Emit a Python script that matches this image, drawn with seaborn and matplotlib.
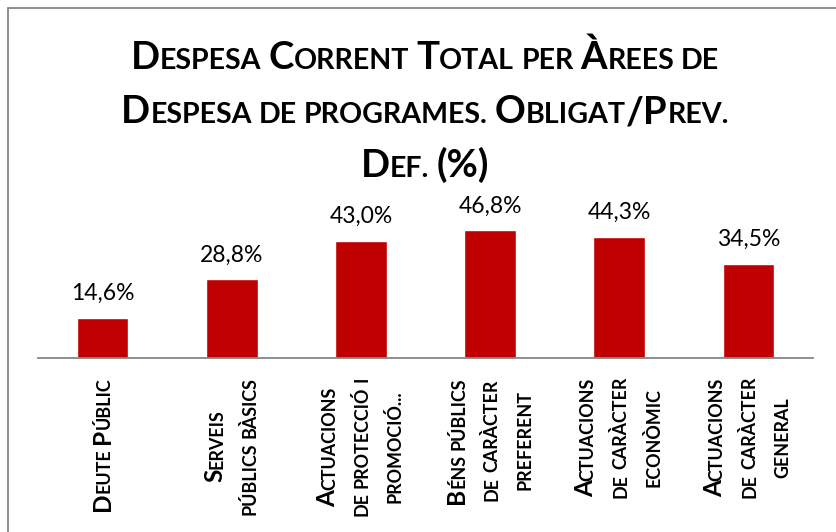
import matplotlib
matplotlib.use("Agg")
import matplotlib.pyplot as plt
import numpy as np
import pandas as pd
import seaborn as sns
from matplotlib.patches import Rectangle

# ---------------- data ----------------
categories = [
    "Deute Públic",
    "Serveis\npúblics bàsics",
    "Actuacions\nde protecció i\npromoció...",
    "Béns públics\nde caràcter\npreferent",
    "Actuacions\nde caràcter\neconòmic",
    "Actuacions\nde caràcter\ngeneral",
]
values = [14.6, 28.8, 43.0, 46.8, 44.3, 34.5]
value_labels = ["14,6%", "28,8%", "43,0%", "46,8%", "44,3%", "34,5%"]
title_lines = [
    "Despesa Corrent Total per Àrees de",
    "Despesa de programes. Obligat/Prev.",
    "Def. (%)",
]

# ---------------- style ----------------
sns.set_theme(style="white")
plt.rcParams["font.family"] = ["Lato", "DejaVu Sans"]

W, H = 836, 532
fig = plt.figure(figsize=(W / 100, H / 100), dpi=100)
fig.patch.set_facecolor("white")

# outer chart border (clipped by the image at right / bottom)
fig.patches.append(Rectangle((8 / W, -0.1), 1.2, 1.1 - 8 / H, transform=fig.transFigure,
                             fill=False, edgecolor="#868686", lw=1.3))

ax = fig.add_axes([38 / W, 1 - 357.5 / H, 775 / W, 163 / H])
df = pd.DataFrame({"cat": categories, "val": values})
sns.barplot(data=df, x="cat", y="val", color="#C00000", saturation=1, width=0.4, ax=ax)
ax.set_ylim(0, 60)
ax.set_xlim(-0.5, 5.5)
ax.set_yticks([])
ax.set_xticks(range(len(categories)))
ax.set_xticklabels([])
ax.tick_params(length=0)
ax.set_xlabel("")
ax.set_ylabel("")
ax.set_facecolor("none")
for s in ["top", "right", "left"]:
    ax.spines[s].set_visible(False)
ax.spines["bottom"].set_color("#868686")
ax.spines["bottom"].set_linewidth(1.3)

ax.bar_label(ax.containers[0], labels=value_labels, padding=10, fontsize=16.5, color="black")

# ---------------- small caps helpers ----------------
renderer = fig.canvas.get_renderer()


def text_w(s, size, weight):
    t = fig.text(0, 0, s, fontsize=size, fontweight=weight)
    w = t.get_window_extent(renderer).width
    t.remove()
    return w


def layout(line, big, small, weight):
    runs = []
    for ch in line:
        if ch == " ":
            kind, size, c = "sp", small, ch
        elif (ch.isalpha() and ch.islower()) or ch in ".,":
            kind, size, c = "t", small, ch.upper()
        else:
            kind, size, c = "t", big, ch
        if runs and runs[-1][0] == kind and runs[-1][1] == size:
            runs[-1][2] += c
        else:
            runs.append([kind, size, c])
    out = []
    for kind, size, s in runs:
        if kind == "sp":
            sp = text_w("a a", size, weight) - text_w("aa", size, weight)
            out.append((None, size, sp * len(s)))
        else:
            out.append((s, size, text_w(s, size, weight)))
    return out


def line_width(line, big, small, weight="bold"):
    return sum(r[2] for r in layout(line, big, small, weight))


def draw_h(line, cx, by, big, small, weight="bold"):
    runs = layout(line, big, small, weight)
    total = sum(r[2] for r in runs)
    x = cx - total / 2
    for s, size, adv in runs:
        if s is not None:
            fig.text(x / W, 1 - by / H, s, fontsize=size, fontweight=weight,
                     ha="left", va="baseline", color="black")
        x += adv


def draw_v_block(label, cx, top, big, small, spacing, offset, weight="bold"):
    lines = label.split("\n")
    lays = [layout(l, big, small, weight) for l in lines]
    widths = [sum(r[2] for r in lay) for lay in lays]
    cy = top + max(widths) / 2
    n = len(lines)
    for i, (lay, wl) in enumerate(zip(lays, widths)):
        bx = cx + (i - (n - 1) / 2) * spacing + offset
        pen = cy + wl / 2
        for s, size, adv in lay:
            if s is not None:
                fig.text(bx / W, 1 - pen / H, s, fontsize=size, fontweight=weight,
                         rotation=90, rotation_mode="anchor", ha="left", va="baseline",
                         color="black")
            pen -= adv


# title: fit first line to the reference extent
tk = 590 / line_width(title_lines[0], 24, 18)
for i, line in enumerate(title_lines):
    draw_h(line, 425, 69 + 54 * i, 24 * tk, 18 * tk)

# category labels: fit "públics bàsics" to reference extent
lk = 137 / line_width("públics bàsics", 15, 11)
for i, cat in enumerate(categories):
    cx = ax.transData.transform((i, 0))[0]
    draw_v_block(cat, cx, 377, 15 * lk, 11 * lk, 33, 7)

fig.savefig("out.png", dpi=100, facecolor="white")
